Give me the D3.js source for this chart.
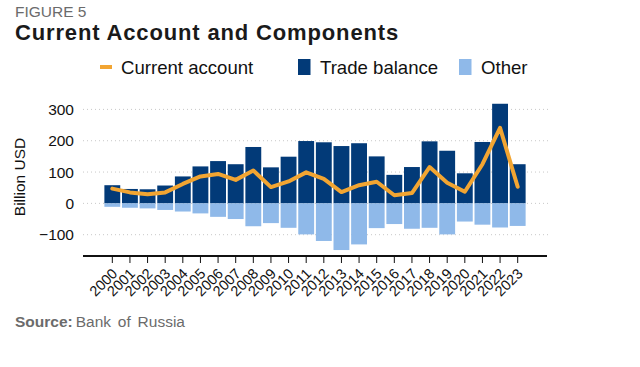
<!DOCTYPE html>
<html><head><meta charset="utf-8">
<script src="https://cdn.jsdelivr.net/npm/d3@7"></script>
<style>
body{margin:0;background:#fff;}
svg{display:block;font-family:"Liberation Sans",Arial,sans-serif;}
</style></head>
<body>
<svg id="chart" width="640" height="367"></svg>
<script>
const years = ["2000","2001","2002","2003","2004","2005","2006","2007","2008","2009","2010","2011","2012","2013","2014","2015","2016","2017","2018","2019","2020","2021","2022","2023"];
const tradeBalance = [58,46,45,57,86,118,135,125,180,115,149,199,195,183,192,150,91,116,198,168,96,196,318,125];
const other = [-11,-14,-16,-21,-26,-32,-43,-50,-73,-63,-78,-99,-120,-149,-131,-79,-66,-81,-78,-99,-58,-68,-77,-72];
const currentAccount = [47,35,29,35,62,86,94,75,105,52,70,99,78,36,58,69,26,33,116,66,37,125,241,53];
const yTicks = [-100,0,100,200,300];
const legendLabels = ["Current account","Trade balance","Other"];

const C_NAVY="#023a78", C_LIGHT="#8fb9e9", C_ORANGE="#f2a532";
const svg = d3.select("#chart");

const x = d3.scaleBand().domain(years).range([103.5,526.5]).paddingInner(0.1).paddingOuter(0.05);
const y = d3.scaleLinear().domain([-168,300]).range([256,109.4]);

// titles
svg.append("text").attr("x",15).attr("y",16.5).attr("font-size",15.5).attr("fill","#6b6b6b").text("FIGURE 5");
svg.append("text").attr("x",15).attr("y",40).attr("font-size",22).attr("letter-spacing",0.85).attr("font-weight","bold").attr("fill","#1a1a1a").text("Current Account and Components");

// legend
const lg = svg.append("g");
lg.append("line").attr("x1",100).attr("x2",112).attr("y1",67).attr("y2",67).attr("stroke",C_ORANGE).attr("stroke-width",4);
lg.append("text").attr("x",121).attr("y",74).attr("font-size",18.6).attr("fill","#111").text(legendLabels[0]);
lg.append("rect").attr("x",298).attr("y",59).attr("width",12.5).attr("height",16).attr("fill",C_NAVY);
lg.append("text").attr("x",320).attr("y",74).attr("font-size",18.6).attr("fill","#111").text(legendLabels[1]);
lg.append("rect").attr("x",459).attr("y",59).attr("width",12.5).attr("height",16).attr("fill",C_LIGHT);
lg.append("text").attr("x",481).attr("y",74).attr("font-size",18.6).attr("fill","#111").text(legendLabels[2]);

// gridlines
svg.append("g").selectAll("line").data(yTicks).join("line")
  .attr("x1",83).attr("x2",548).attr("y1",d=>y(d)).attr("y2",d=>y(d))
  .attr("stroke","#c8c8c8").attr("stroke-width",1).attr("stroke-dasharray","1,3");

// y axis labels
const ya = svg.append("g").attr("transform","translate(78,0)")
  .call(d3.axisLeft(y).tickValues(yTicks).tickSize(0).tickPadding(4));
ya.select(".domain").remove();
ya.selectAll("text").attr("font-size",15.5).attr("fill","#111").attr("font-family","Liberation Sans, Arial, sans-serif");

svg.append("text").attr("transform","translate(25,177) rotate(-90)").attr("text-anchor","middle")
  .attr("font-size",15.5).attr("fill","#111").text("Billion USD");

// bars
svg.append("g").selectAll("rect").data(years).join("rect")
  .attr("x",d=>x(d)).attr("width",x.bandwidth())
  .attr("y",(d,i)=>y(tradeBalance[i])).attr("height",(d,i)=>y(0)-y(tradeBalance[i]))
  .attr("fill",C_NAVY);
svg.append("g").selectAll("rect").data(years).join("rect")
  .attr("x",d=>x(d)).attr("width",x.bandwidth())
  .attr("y",y(0)).attr("height",(d,i)=>y(other[i])-y(0))
  .attr("fill",C_LIGHT);

// line
const line = d3.line().x((d,i)=>x(years[i])+x.bandwidth()/2).y(d=>y(d));
svg.append("path").datum(currentAccount).attr("d",line).attr("fill","none")
  .attr("stroke",C_ORANGE).attr("stroke-width",4).attr("stroke-linejoin","round").attr("stroke-linecap","round");

// x axis
svg.append("line").attr("x1",83).attr("x2",547).attr("y1",256).attr("y2",256).attr("stroke","#111").attr("stroke-width",2);
const xa = svg.append("g").attr("transform","translate(0,256)")
  .call(d3.axisBottom(x).tickSize(7).tickPadding(3));
xa.select(".domain").remove();
xa.selectAll(".tick line").attr("stroke","#111").attr("stroke-width",1);
xa.selectAll("text").attr("font-size",14.5).attr("fill","#111").attr("font-family","Liberation Sans, Arial, sans-serif")
  .attr("text-anchor","end").attr("x",0).attr("y",0).attr("dy",0).attr("transform","translate(6,18.5) rotate(-45)");

// source
const src = svg.append("text").attr("x",15).attr("y",327).attr("font-size",15.5).attr("fill","#6b6b6b");
src.append("tspan").attr("font-weight","bold").text("Source:");
src.append("tspan").attr("dx",3).attr("word-spacing",2.5).text("Bank of Russia");
</script>
</body></html>
